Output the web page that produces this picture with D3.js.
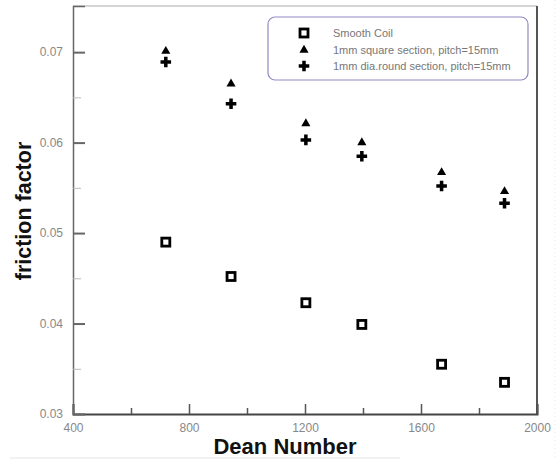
<!DOCTYPE html>
<html>
<head>
<meta charset="utf-8">
<script src="https://cdn.jsdelivr.net/npm/d3@7"></script>
<style>
  body { margin: 0; background: #fff; }
  svg { display: block; font-family: "Liberation Sans", Arial, sans-serif; }
</style>
</head>
<body>
<div id="chart"></div>
<script>
// Data
const deanNumbers = [720, 945, 1203, 1396, 1671, 1888];
const smoothCoil = [0.0490, 0.0452, 0.0423, 0.0399, 0.0355, 0.0335];
const squareSection = [0.0701, 0.0665, 0.0621, 0.0600, 0.0567, 0.0546];
const roundSection = [0.0689, 0.0643, 0.0603, 0.0585, 0.0552, 0.0533];
const xTicks = [400, 800, 1200, 1600, 2000];
const xMinorTicks = [600, 1000, 1400, 1800];
const yTicks = [0.03, 0.04, 0.05, 0.06, 0.07];
const yMinorTicks = [0.035, 0.045, 0.055, 0.065];
const legendLabels = ["Smooth Coil", "1mm square section, pitch=15mm", "1mm dia.round section, pitch=15mm"];

const width = 559;
const height = 459;
const margin = {top: 6, right: 22, bottom: 45, left: 73};
const innerWidth = width - margin.left - margin.right;
const innerHeight = height - margin.top - margin.bottom;

const svg = d3.select("#chart")
  .append("svg")
    .attr("width", width)
    .attr("height", height);

const inner = svg.append("g")
  .attr("transform", `translate(${margin.left}, ${margin.top})`);

// scales
const xScale = d3.scaleLinear().domain([400, 2000]).range([0, innerWidth]);
const yScale = d3.scaleLinear().domain([0.03, 0.0751]).range([innerHeight, 0]);

// frame: top light, right dark
inner.append("line")
  .attr("x1", 0).attr("x2", innerWidth).attr("y1", 0).attr("y2", 0)
  .attr("stroke", "#aaa").attr("stroke-width", 1.2);
inner.append("line")
  .attr("x1", innerWidth).attr("x2", innerWidth).attr("y1", 0).attr("y2", innerHeight)
  .attr("stroke", "#555").attr("stroke-width", 2);

// bottom axis, ticks point inward
const bottomAxis = d3.axisBottom(xScale)
  .tickValues(xTicks)
  .tickSize(-10)
  .tickPadding(9)
  .tickFormat(d3.format("d"));
const gx = inner.append("g")
  .attr("transform", `translate(0, ${innerHeight})`)
  .call(bottomAxis);
gx.selectAll(".tick line").attr("stroke", "#555").attr("stroke-width", 1.5);
gx.selectAll(".tick text").attr("fill", "#888").attr("font-size", 12);
gx.select(".domain").attr("stroke", "#444").attr("stroke-width", 2);

const gxMinor = inner.append("g")
  .attr("transform", `translate(0, ${innerHeight})`)
  .call(d3.axisBottom(xScale).tickValues(xMinorTicks).tickSize(-6).tickFormat(""));
gxMinor.select(".domain").remove();
gxMinor.selectAll(".tick line").attr("stroke", "#555").attr("stroke-width", 1.5);

// left axis
const leftAxis = d3.axisLeft(yScale)
  .tickValues(yTicks)
  .tickSize(-12)
  .tickPadding(10)
  .tickFormat(d3.format(".2f"));
const gy = inner.append("g").call(leftAxis);
gy.selectAll(".tick line").attr("stroke", "#666").attr("stroke-width", 2);
gy.selectAll(".tick text").attr("fill", "#888").attr("font-size", 12);
gy.select(".domain").attr("stroke", "#666").attr("stroke-width", 1.5);

const gyMinor = inner.append("g")
  .call(d3.axisLeft(yScale).tickValues(yMinorTicks).tickSize(-8).tickFormat(""));
gyMinor.select(".domain").remove();
gyMinor.selectAll(".tick line").attr("stroke", "#bbb").attr("stroke-width", 1);

// markers
const triangle = d3.symbol().type(d3.symbolTriangle).size(36);
const cross = d3.symbol().type(d3.symbolCross).size(62);

inner.selectAll(".smooth")
  .data(deanNumbers)
  .join("rect")
    .attr("class", "smooth")
    .attr("x", d => xScale(d) - 4)
    .attr("y", (d, i) => yScale(smoothCoil[i]) - 4)
    .attr("width", 8)
    .attr("height", 8)
    .attr("fill", "#fff")
    .attr("stroke", "#000")
    .attr("stroke-width", 2.8);

inner.selectAll(".square")
  .data(deanNumbers)
  .join("path")
    .attr("class", "square")
    .attr("d", triangle)
    .attr("transform", (d, i) => `translate(${xScale(d)}, ${yScale(squareSection[i])})`)
    .attr("fill", "#000");

inner.selectAll(".round")
  .data(deanNumbers)
  .join("path")
    .attr("class", "round")
    .attr("d", cross)
    .attr("transform", (d, i) => `translate(${xScale(d)}, ${yScale(roundSection[i])})`)
    .attr("fill", "#000");

// legend
const legend = svg.append("g").attr("transform", "translate(268, 17)");
legend.append("rect")
  .attr("width", 260)
  .attr("height", 63)
  .attr("rx", 7)
  .attr("fill", "#fff")
  .attr("stroke", "#8f8cc4")
  .attr("stroke-width", 1.2);

const rowY = [16, 33, 49];
legend.append("rect")
  .attr("x", 32).attr("y", rowY[0] - 4)
  .attr("width", 8).attr("height", 8)
  .attr("fill", "#fff").attr("stroke", "#000").attr("stroke-width", 2.8);
legend.append("path")
  .attr("d", triangle)
  .attr("transform", `translate(36, ${rowY[1]})`);
legend.append("path")
  .attr("d", cross)
  .attr("transform", `translate(36, ${rowY[2]})`);

legend.selectAll(".legend-label")
  .data(legendLabels)
  .join("text")
    .attr("class", "legend-label")
    .attr("x", 65)
    .attr("y", (d, i) => rowY[i] + 4)
    .attr("font-size", 11)
    .attr("fill", "#777")
    .text(d => d);

// axis titles
svg.append("text")
  .attr("x", margin.left + innerWidth / 2 - 20)
  .attr("y", 454)
  .attr("text-anchor", "middle")
  .attr("font-size", 22)
  .attr("font-weight", "bold")
  .attr("fill", "#111")
  .text("Dean Number");

svg.append("text")
  .attr("transform", "translate(31, 211) rotate(-90)")
  .attr("text-anchor", "middle")
  .attr("font-size", 21.5)
  .attr("font-weight", "bold")
  .attr("fill", "#111")
  .text("friction factor");

// faint scan edges
svg.append("line")
  .attr("x1", 10).attr("x2", 400).attr("y1", 458).attr("y2", 458)
  .attr("stroke", "#e4e4e4");
svg.append("line")
  .attr("x1", 555).attr("x2", 555).attr("y1", 0).attr("y2", height)
  .attr("stroke", "#e8e8e8").attr("stroke-dasharray", "1,3");
</script>
</body>
</html>
